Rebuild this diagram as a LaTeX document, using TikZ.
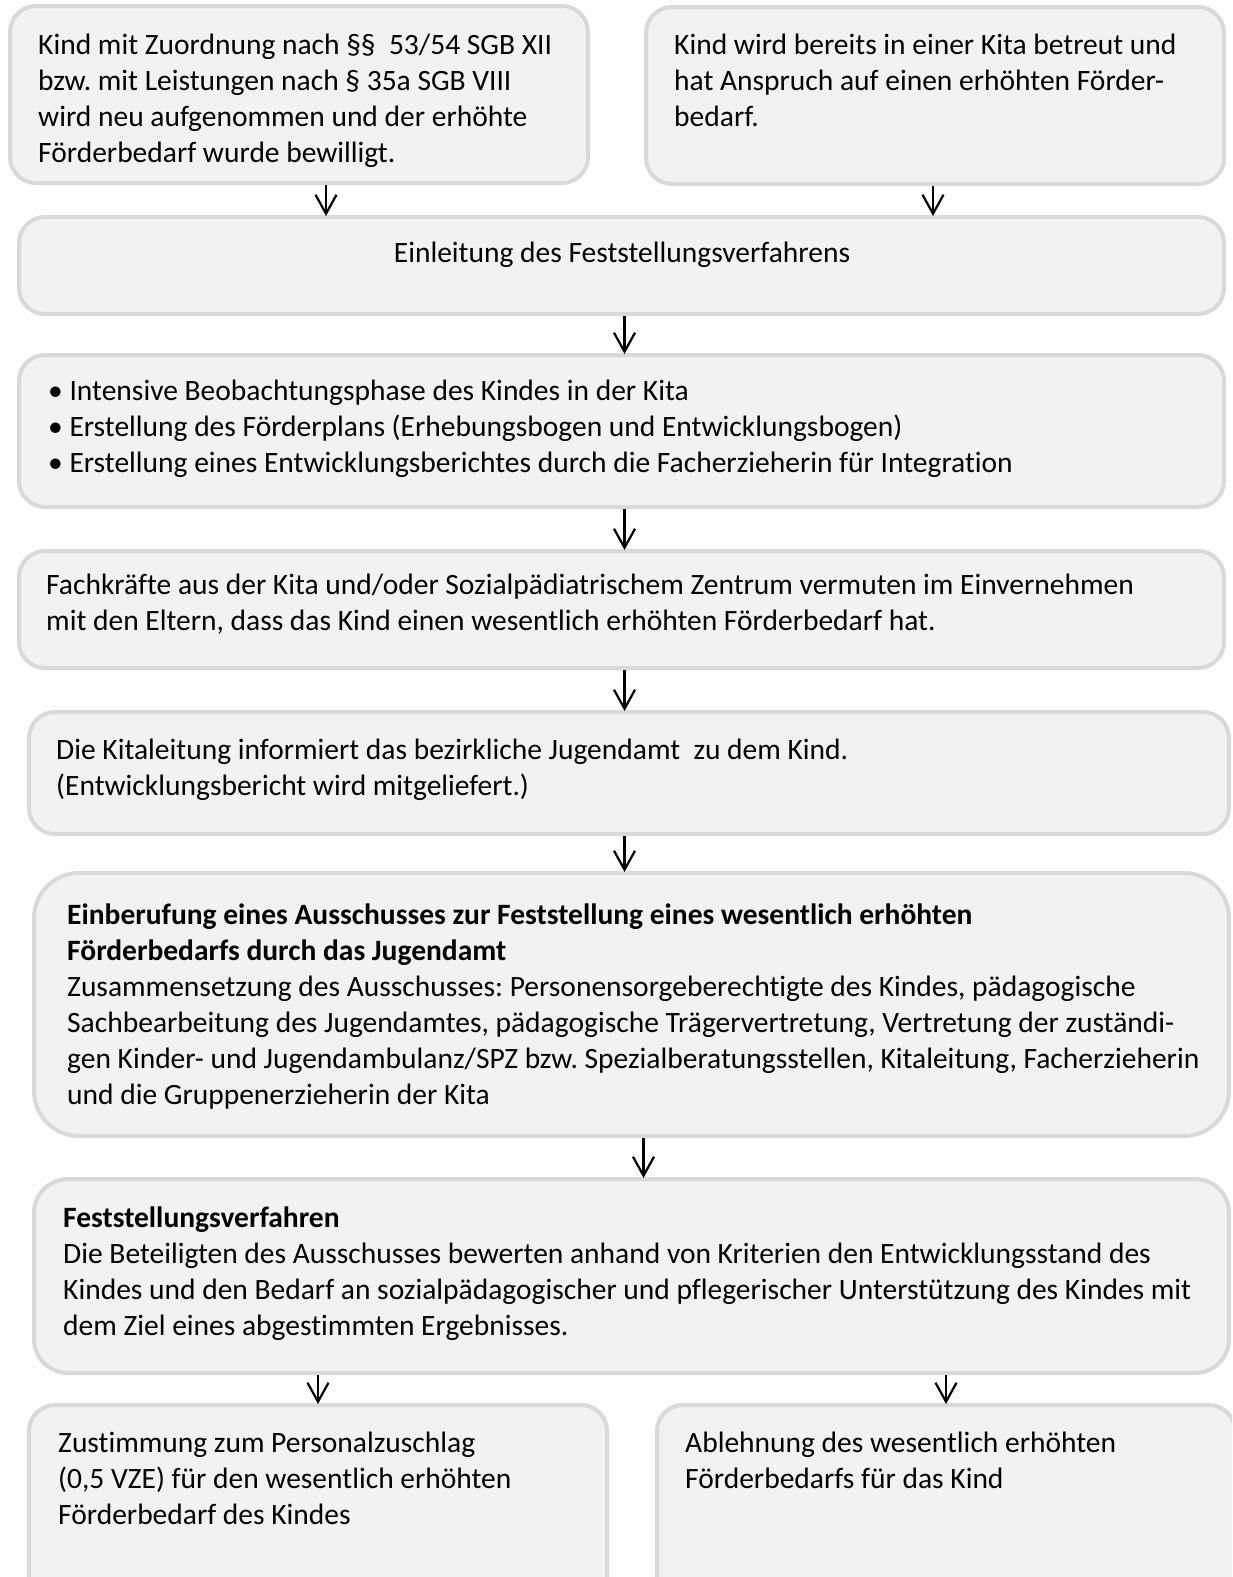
\documentclass[tikz,border=0pt]{standalone}
\usepackage{fontspec}
\setmainfont{Carlito}[Ligatures=NoCommon]
\usetikzlibrary{arrows.meta,positioning}
\definecolor{boxline}{HTML}{D9D9D9}
\definecolor{boxfill}{HTML}{F2F2F2}
\frenchspacing

\begin{document}
\begin{tikzpicture}[x=1pt,y=-1pt,
    box/.style = {draw=boxline, fill=boxfill, line width=4pt, rounded corners=#1,
            anchor=north west, inner sep=0pt, outer sep=0pt},
    box/.default=26pt,
    txt/.style = {anchor=base west, align=left, inner sep=0pt,
            font=\fontsize{29.5}{36}\selectfont},
    arr/.style = {-{Straight Barb[length=19pt,width=21pt]}, line width=2.2pt,
            shorten <=2pt, shorten >=1pt}]
            \useasboundingbox (0,0) rectangle (1232,1577);
            \clip (0,0) rectangle (1232,1577);
            % boxes
            \node[box,minimum width=578pt,minimum height=177pt] (b1) at (10,6) {};
            \node[box,minimum width=578pt,minimum height=177pt] (b2) at (646,7) {};
            \node[box,minimum width=1205pt,minimum height=97pt] (b3) at (19,217) {};
            \node[box,minimum width=1205pt,minimum height=152pt] (b4) at (19,355) {};
            \node[box,minimum width=1205pt,minimum height=117pt] (b5) at (19,551) {};
            \node[box,minimum width=1200pt,minimum height=122pt] (b6) at (29,712) {};
            \node[box=45pt,minimum width=1195pt,minimum height=263pt] (b7) at (34,873) {};
            \node[box=34pt,minimum width=1195pt,minimum height=194pt] (b8) at (34,1179) {};
            \node[box,minimum width=578pt,minimum height=220pt] (b9) at (29,1405) {};
            \node[box,minimum width=578pt,minimum height=220pt] (b10) at (657,1405) {};
            % texts (anchored at the baseline of their last line)
            \node[txt] (t1) at (38,162) {Kind mit Zuordnung nach §§\ \ 53/54 SGB XII\\
                bzw. mit Leistungen nach § 35a SGB VIII\\
                wird neu aufgenommen und der erhöhte\\
                Förderbedarf wurde bewilligt.};
            \node[txt] (t2) at (674,126) {Kind wird bereits in einer Kita betreut und\\
                hat Anspruch auf einen erhöhten Förder-\\
                bedarf.};
            \node[txt,anchor=base] (t3) at (622,262) {Einleitung des Feststellungsverfahrens};
            \node[txt] (t4) at (48,472) {• Intensive Beobachtungsphase des Kindes in der Kita\\
                • Erstellung des Förderplans (Erhebungsbogen und Entwicklungsbogen)\\
                • Erstellung eines Entwicklungsberichtes durch die Facherzieherin für Integration};
            \node[txt] (t5) at (46,630) {Fachkräfte aus der Kita und/oder Sozialpädiatrischem Zentrum vermuten im Einvernehmen\\
                mit den Eltern, dass das Kind einen wesentlich erhöhten Förderbedarf hat.};
            \node[txt] (t6) at (56,795) {Die Kitaleitung informiert das bezirkliche Jugendamt\ \ zu dem Kind.\\
                (Entwicklungsbericht wird mitgeliefert.)};
            \node[txt] (t7) at (67,1104) {\textbf{Einberufung eines Ausschusses zur Feststellung eines wesentlich erhöhten}\\
                \textbf{Förderbedarfs durch das Jugendamt}\\
                Zusammensetzung des Ausschusses: Personensorgeberechtigte des Kindes, pädagogische\\
                Sachbearbeitung des Jugendamtes, pädagogische Trägervertretung, Vertretung der zuständi-\\
                gen Kinder- und Jugendambulanz/SPZ bzw. Spezialberatungsstellen, Kitaleitung, Facherzieherin\\
                und die Gruppenerzieherin der Kita};
            \node[txt] (t8) at (63,1335) {\textbf{Feststellungsverfahren}\\
                Die Beteiligten des Ausschusses bewerten anhand von Kriterien den Entwicklungsstand des\\
                Kindes und den Bedarf an sozialpädagogischer und pflegerischer Unterstützung des Kindes mit\\
                dem Ziel eines abgestimmten Ergebnisses.};
            \node[txt] (t9) at (58,1524) {Zustimmung zum Personalzuschlag\\
                (0,5 VZE) für den wesentlich erhöhten\\
                Förderbedarf des Kindes};
            \node[txt] (t10) at (685,1488) {Ablehnung des wesentlich erhöhten\\
                Förderbedarfs für das Kind};
            % arrows
            \draw[arr] ([xshift=27pt]b1.south) -- ([xshift=27pt]b1.south |- b3.north);
            \draw[arr] ([xshift=-2pt]b2.south) -- ([xshift=-2pt]b2.south |- b3.north);
            \draw[arr] ([xshift=3pt]b3.south) -- ([xshift=3pt]b3.south |- b4.north);
            \draw[arr] ([xshift=3pt]b4.south) -- ([xshift=3pt]b4.south |- b5.north);
            \draw[arr] ([xshift=3pt]b5.south) -- ([xshift=3pt]b5.south |- b6.north);
            \draw[arr] ([xshift=3pt]b5.south |- b6.south) -- ([xshift=3pt]b5.south |- b7.north);
            \draw[arr] ([xshift=12pt]b7.south) -- ([xshift=12pt]b7.south |- b8.north);
            \draw[arr] (b9.north |- b8.south) -- (b9.north);
            \draw[arr] (b10.north |- b8.south) -- (b10.north);
        \end{tikzpicture}
\end{document}
